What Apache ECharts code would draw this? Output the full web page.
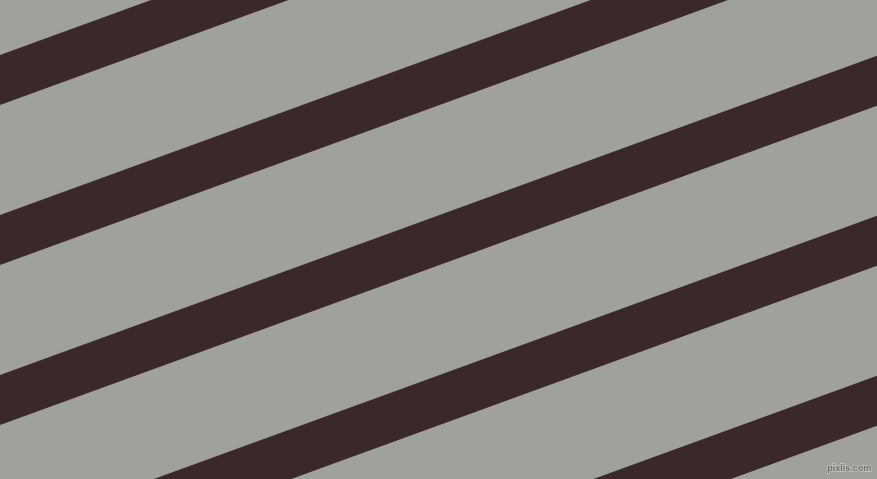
<!DOCTYPE html>
<html>
<head>
<meta charset="utf-8">
<script src="https://cdn.jsdelivr.net/npm/echarts@6/dist/echarts.min.js"></script>
<style>html,body{margin:0;padding:0;background:#A0A09D;}#c{width:877px;height:479px;}</style>
</head>
<body>
<div id="c"></div>
<script>
// Stripe top-edge intercepts on the left edge (y, in pixel units of the 877x479 field)
const stripeStarts = [55, 215, 375, 535, 695];
const stripeHeight = [50, 50, 50, 50, 50];
const angleDeg = 20;
const fieldW = 877, fieldH = 479;

const slope = Math.tan(angleDeg * Math.PI / 180);
const data = stripeStarts.map((s, i) => [s, stripeHeight[i]]);

const chart = echarts.init(document.getElementById('c'), null, {renderer: 'canvas'});
chart.setOption({
  backgroundColor: '#A0A09D',
  animation: false,
  grid: {left: 0, right: 0, top: 0, bottom: 0},
  xAxis: {type: 'value', min: 0, max: fieldW, show: false},
  yAxis: {type: 'value', min: 0, max: fieldH, inverse: true, show: false},
  series: [{
    type: 'custom',
    clip: true,
    data: data,
    renderItem: function (params, api) {
      const t = api.value(0), h = api.value(1);
      const pts = [
        api.coord([0, t]),
        api.coord([fieldW, t - fieldW * slope]),
        api.coord([fieldW, t + h - fieldW * slope]),
        api.coord([0, t + h])
      ];
      return {type: 'polygon', shape: {points: pts}, style: {fill: '#3B292A'}};
    }
  }],
  graphic: [{
    type: 'text', right: 5, bottom: 5,
    style: {text: 'pixlis.com', fontFamily: 'Liberation Sans', fontSize: 9, fontWeight: 'bold', fill: '#6E6E6C', stroke: '#C4C4C1', lineWidth: 1.5}
  }]
});
</script>
</body>
</html>
